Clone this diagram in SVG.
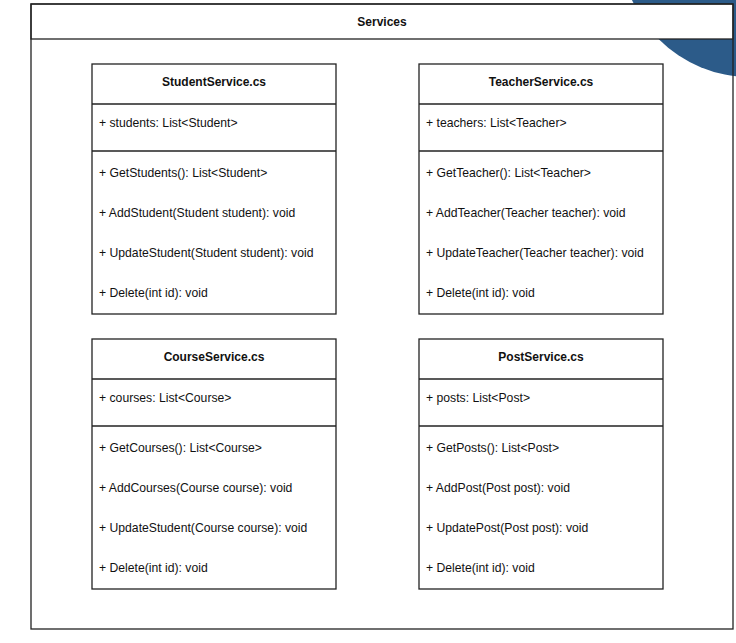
<svg xmlns="http://www.w3.org/2000/svg" width="736" height="643" viewBox="0 0 736 643">
<style>
.box{fill:#fff;stroke:#222;stroke-width:1.3}
.ln{stroke:#222;stroke-width:1.3;fill:none}
.t{font-family:"Liberation Sans",Arial,sans-serif;font-size:12.2px;fill:#111}
.b{font-weight:bold;text-anchor:middle;font-size:12px}
</style>
<rect width="736" height="643" fill="#fff"/>
<circle cx="750" cy="-52" r="129" fill="#2c5b89"/>
<g id="services">
<rect x="31" y="4" width="702" height="35" class="box"/>
<rect x="31" y="4" width="702" height="625" class="ln"/>
<text x="382" y="26" class="t b">Services</text>
</g>
<g id="studentservice" transform="translate(92,64)">
<rect width="244" height="250" class="box"/>
<line x1="0" y1="40" x2="244" y2="40" class="ln"/>
<line x1="0" y1="87" x2="244" y2="87" class="ln"/>
<text x="122" y="22" class="t b">StudentService.cs</text>
<text x="7" y="63" class="t">+ students: List&lt;Student&gt;</text>
<text x="7" y="113" class="t">+ GetStudents(): List&lt;Student&gt;</text>
<text x="7" y="153" class="t">+ AddStudent(Student student): void</text>
<text x="7" y="193" class="t">+ UpdateStudent(Student student): void</text>
<text x="7" y="233" class="t">+ Delete(int id): void</text>
</g>
<g id="teacherservice" transform="translate(419,64)">
<rect width="244" height="250" class="box"/>
<line x1="0" y1="40" x2="244" y2="40" class="ln"/>
<line x1="0" y1="87" x2="244" y2="87" class="ln"/>
<text x="122" y="22" class="t b">TeacherService.cs</text>
<text x="7" y="63" class="t">+ teachers: List&lt;Teacher&gt;</text>
<text x="7" y="113" class="t">+ GetTeacher(): List&lt;Teacher&gt;</text>
<text x="7" y="153" class="t">+ AddTeacher(Teacher teacher): void</text>
<text x="7" y="193" class="t">+ UpdateTeacher(Teacher teacher): void</text>
<text x="7" y="233" class="t">+ Delete(int id): void</text>
</g>
<g id="courseservice" transform="translate(92,339)">
<rect width="244" height="250" class="box"/>
<line x1="0" y1="40" x2="244" y2="40" class="ln"/>
<line x1="0" y1="87" x2="244" y2="87" class="ln"/>
<text x="122" y="22" class="t b">CourseService.cs</text>
<text x="7" y="63" class="t">+ courses: List&lt;Course&gt;</text>
<text x="7" y="113" class="t">+ GetCourses(): List&lt;Course&gt;</text>
<text x="7" y="153" class="t">+ AddCourses(Course course): void</text>
<text x="7" y="193" class="t">+ UpdateStudent(Course course): void</text>
<text x="7" y="233" class="t">+ Delete(int id): void</text>
</g>
<g id="postservice" transform="translate(419,339)">
<rect width="244" height="250" class="box"/>
<line x1="0" y1="40" x2="244" y2="40" class="ln"/>
<line x1="0" y1="87" x2="244" y2="87" class="ln"/>
<text x="122" y="22" class="t b">PostService.cs</text>
<text x="7" y="63" class="t">+ posts: List&lt;Post&gt;</text>
<text x="7" y="113" class="t">+ GetPosts(): List&lt;Post&gt;</text>
<text x="7" y="153" class="t">+ AddPost(Post post): void</text>
<text x="7" y="193" class="t">+ UpdatePost(Post post): void</text>
<text x="7" y="233" class="t">+ Delete(int id): void</text>
</g>
<g id="connectors"></g>
</svg>
